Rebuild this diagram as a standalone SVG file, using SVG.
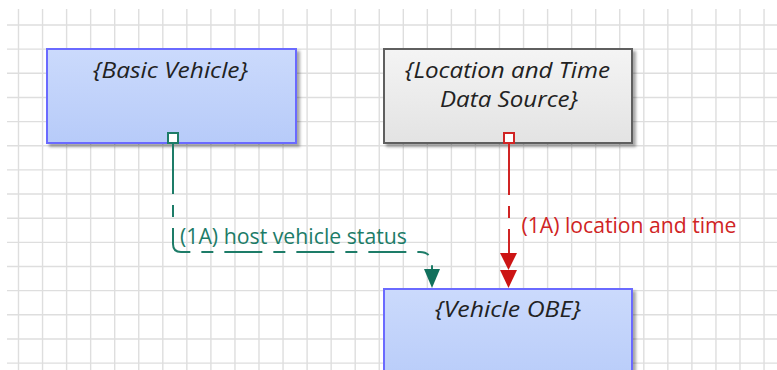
<svg xmlns="http://www.w3.org/2000/svg" width="777" height="370" viewBox="0 0 777 370">
<style>
.grid{fill:none;stroke:#dedede;stroke-width:1.4}
.box{stroke-width:2}
.blue{fill:url(#gBlue);stroke:#6a6aff}
.gray{fill:url(#gGray);stroke:#5e5e5e}
.nlabel{font-family:"Open Sans","Liberation Sans",sans-serif;font-style:italic;font-size:21px;fill:#222222;text-anchor:middle}
.clabel{font-family:"Open Sans","Liberation Sans",sans-serif;font-size:21px}
.green{stroke:#1d7c68;fill:none;stroke-width:2}
.red{stroke:#d02424;fill:none;stroke-width:2}
.dash{stroke-dasharray:38 11 12 11}
</style>
<defs>
<linearGradient id="gBlue" x1="0" y1="0" x2="0" y2="1">
<stop offset="0" stop-color="#cbdafc"/>
<stop offset="1" stop-color="#b7cbf9"/>
</linearGradient>
<linearGradient id="gGray" x1="0" y1="0" x2="0" y2="1">
<stop offset="0" stop-color="#f4f4f4"/>
<stop offset="1" stop-color="#e3e3e3"/>
</linearGradient>
<filter id="shadow" x="-10%" y="-10%" width="130%" height="130%">
<feDropShadow dx="3" dy="3" stdDeviation="1.5" flood-color="#000" flood-opacity="0.35"/>
</filter>
</defs>
<rect x="0" y="0" width="777" height="370" fill="#ffffff"/>
<g id="grid">
<path class="grid" d="M18.5 9V370M42.55 9V370M66.6 9V370M90.65 9V370M114.7 9V370M138.75 9V370M162.8 9V370M186.85 9V370M210.9 9V370M234.95 9V370M259 9V370M283.05 9V370M307.1 9V370M331.15 9V370M355.2 9V370M379.25 9V370M403.3 9V370M427.35 9V370M451.4 9V370M475.45 9V370M499.5 9V370M523.55 9V370M547.6 9V370M571.65 9V370M595.7 9V370M619.75 9V370M643.8 9V370M667.85 9V370M691.9 9V370M715.95 9V370M740 9V370M764.05 9V370"/>
<path class="grid" d="M7 25H777M7 49.15H777M7 73.3H777M7 97.45H777M7 121.6H777M7 145.75H777M7 169.9H777M7 194.05H777M7 218.2H777M7 242.35H777M7 266.5H777M7 290.65H777M7 314.8H777M7 338.95H777M7 363.1H777"/>
</g>
<g id="node-basic-vehicle">
<rect class="box blue" x="47" y="49" width="249" height="94" filter="url(#shadow)"/>
<text class="nlabel" x="170.5" y="78" textLength="155" lengthAdjust="spacingAndGlyphs">{Basic Vehicle}</text>
</g>
<g id="node-location-time">
<rect class="box gray" x="384" y="49" width="248" height="94" filter="url(#shadow)"/>
<text class="nlabel" x="507.5" y="78" textLength="205" lengthAdjust="spacingAndGlyphs">{Location and Time</text>
<text class="nlabel" x="509" y="107" textLength="138" lengthAdjust="spacingAndGlyphs">Data Source}</text>
</g>
<g id="node-vehicle-obe">
<rect class="box blue" x="384" y="289" width="248" height="100" filter="url(#shadow)"/>
<text class="nlabel" x="508" y="317" textLength="146" lengthAdjust="spacingAndGlyphs">{Vehicle OBE}</text>
</g>
<g id="connectors">
<g id="flow-host-vehicle-status">
<path class="green" d="M173 144V193"/>
<path class="green dash" stroke-dashoffset="60" d="M173 144V244Q173 252 181 252H420Q430 252 432 262V270"/>
<polygon points="424,269 440,269 432,288" fill="#11705c"/>
<rect x="168" y="133" width="10" height="10" fill="#ffffff" stroke="#1d7c68" stroke-width="2"/>
<text class="clabel" x="180" y="244" fill="#1d7c68" textLength="227" lengthAdjust="spacingAndGlyphs">(1A) host vehicle status</text>
</g>
<g id="flow-location-and-time">
<path class="red" d="M509 144V195"/>
<path class="red dash" stroke-dashoffset="59" d="M509 144V254"/>
<polygon points="500,253 517,253 508.5,270" fill="#cc1414"/>
<polygon points="500,270 517,270 508.5,288" fill="#cc1414"/>
<rect x="504" y="133" width="10" height="10" fill="#ffffff" stroke="#d02424" stroke-width="2"/>
<text class="clabel" x="521.5" y="233" fill="#d02424" textLength="215" lengthAdjust="spacingAndGlyphs">(1A) location and time</text>
</g>
</g>
</svg>
